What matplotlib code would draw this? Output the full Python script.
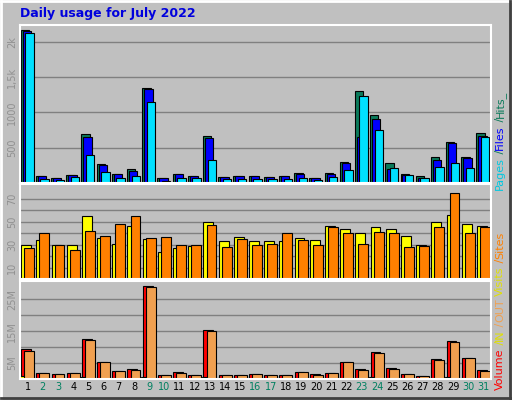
import matplotlib.pyplot as plt
import numpy as np

# ── data ──────────────────────────────────────────────────────────────────────
days = list(range(1, 32))
weekend = [2, 3, 9, 10, 16, 17, 23, 24, 30, 31]

hits = [2171, 100, 71, 114, 700, 271, 129, 205, 1343, 71, 129, 100, 662, 86, 100, 100,
        86, 100, 143, 71, 143, 300, 1300, 957, 286, 129, 100, 371, 586, 371, 714]
files = [2152, 100, 71, 114, 657, 257, 129, 171, 1329, 71, 129, 100, 643, 86, 100, 100,
         86, 100, 129, 71, 129, 286, 657, 914, 195, 114, 71, 329, 571, 357, 671]
pages = [2129, 62, 43, 90, 400, 157, 76, 100, 1143, 33, 76, 76, 333, 62, 62, 62,
         62, 62, 76, 43, 90, 186, 1229, 757, 214, 114, 76, 229, 286, 214, 657]

visits = [29.5, 34, 30, 29.5, 55, 36, 31, 46, 35, 24, 27, 28.6, 50, 33, 37, 33,
          33, 33, 36, 34, 46, 44, 40, 45.6, 44, 38, 30, 50, 56, 48, 46]
sites = [27, 40, 30, 25, 42, 38, 48, 55, 36, 37, 29.5, 30, 47, 28, 35, 30,
         31, 40, 34.5, 29.5, 45.6, 40.5, 31, 41, 40.5, 28, 28.6, 45.6, 75, 40.5, 45.6]

volume = [9.5, 2, 1.6, 2, 12.7, 5.2, 2.6, 3.3, 29.3, 1.3, 2.3, 1.3, 15.3, 1.3, 1.3, 1.6,
          1.3, 1.3, 2.3, 1.6, 2, 5.5, 3.3, 8.5, 3.6, 1.6, 1, 6.2, 12.1, 6.5, 2.9]
vol_in = [1.0, 0.2, 0.2, 0.2, 0.6, 0.2, 0.2, 0.2, 0.6, 0.2, 0.2, 0.2, 0.6, 0.2, 0.2, 0.2,
          0.2, 0.2, 0.2, 0.2, 0.2, 0.3, 0.2, 0.5, 0.2, 0.2, 0.2, 0.3, 0.5, 0.3, 0.2]
vol_out = [8.8, 2, 1.6, 2, 12.4, 5.2, 2.6, 2.9, 29.0, 1.3, 2, 1.3, 15.0, 1.3, 1.3, 1.6,
           1.3, 1.3, 2.3, 1.3, 2, 5.2, 2.9, 8.2, 3.3, 1.6, 1, 5.9, 11.7, 6.5, 2.6]

BG = "#c0c0c0"
W, H = 512, 400


def px_axes(fig, x0, y0, x1, y1):
    return fig.add_axes([x0 / W, 1 - y1 / H, (x1 - x0) / W, (y1 - y0) / H])


def style(ax, ymax, ticks, labels):
    ax.set_facecolor(BG)
    ax.set_xlim(0.5, 31.5)
    ax.set_ylim(0, ymax)
    ax.set_yticks(ticks)
    ax.set_yticklabels(labels, rotation=90, va="center", fontsize=7, color="#909090")
    ax.tick_params(axis="y", length=0, pad=2)
    ax.set_xticks([])
    ax.grid(axis="y", color="#808080", linewidth=1)
    ax.set_axisbelow(True)
    for s in ax.spines.values():
        s.set_color("white")
        s.set_linewidth(1.5)


def bars(ax, series, colors, offsets, width):
    x = np.array(days, dtype=float)
    for vals, c, off in zip(series, colors, offsets):
        ax.bar(x + off, vals, width=width, color=c, edgecolor="black", linewidth=0.8)


fig = plt.figure(figsize=(W / 100, H / 100), dpi=100)
fig.patch.set_facecolor(BG)

# bevelled frame
frame = fig.add_axes([0, 0, 1, 1])
frame.set_axis_off()
frame.set_xlim(0, W)
frame.set_ylim(H, 0)
frame.plot([1, W - 2], [1, 1], color="white", lw=2)
frame.plot([1, 1], [1, H - 2], color="white", lw=2)
frame.plot([1, W - 1], [H - 2, H - 2], color="#404040", lw=2)
frame.plot([W - 2, W - 2], [1, H - 1], color="#404040", lw=2)

fig.text(20 / W, 1 - 13 / H, "Daily usage for July 2022", color="#0000dd",
         fontsize=9, fontweight="bold", va="center")

# top panel: hits / files / pages
ax1 = px_axes(fig, 20, 25, 491, 183)
style(ax1, 2240, [500, 1000, 1500, 2000], ["500", "1000", "1,5k", "2k"])
bars(ax1, [hits, files, pages], ["#0a7a5a", "#0000ff", "#00e0ff"], [-0.18, -0.05, 0.12], 0.55)

# middle panel: visits / sites
ax2 = px_axes(fig, 20, 184, 491, 279)
style(ax2, 83, [10, 20, 30, 40, 50, 60, 70], ["10", "", "30", "", "50", "", "70"])
bars(ax2, [visits, sites], ["#ffff00", "#ff8000"], [-0.1, 0.1], 0.65)

# bottom panel: volume / in / out
ax3 = px_axes(fig, 20, 281, 491, 379)
style(ax3, 30.8, [5, 10, 15, 20, 25], ["5M", "", "15M", "", "25M"])
bars(ax3, [volume, vol_in, vol_out], ["#ff0000", "#ffff00", "#f0a050"], [-0.1, -0.22, 0.1], 0.65)

# day labels
for d in days:
    x = 20 + (d - 0.5) * (471 / 31)
    fig.text(x / W, 1 - 387 / H, str(d), ha="center", va="center", fontsize=7,
             color="#008060" if d in weekend else "black")

renderer = fig.canvas.get_renderer()


def vlabel(x, y_bottom, parts):
    # rotated multi-coloured text, bottom to top, measured piece by piece
    y = y_bottom
    for txt, col in parts:
        t = fig.text(x / W, 1 - y / H, txt, rotation=90, color=col, fontsize=8,
                     ha="center", va="bottom")
        y -= t.get_window_extent(renderer).height


vlabel(500, 190, [("Pages", "#00c8e0"), (" /", "#0a7a5a"), ("Files", "#0000ff"),
                  (" /", "#0a7a5a"), ("Hits_", "#0a7a5a")])
vlabel(500, 296, [("Visits", "#e0e000"), (" /", "#ff8000"), ("Sites", "#ff8000")])
vlabel(500, 390, [("Volume", "#ff0000"), (" /", "#e0e000"), ("IN", "#e0e000"),
                  (" /", "#f0a050"), ("OUT", "#f0a050")])

fig.savefig("out.png", dpi=100, facecolor=BG)
